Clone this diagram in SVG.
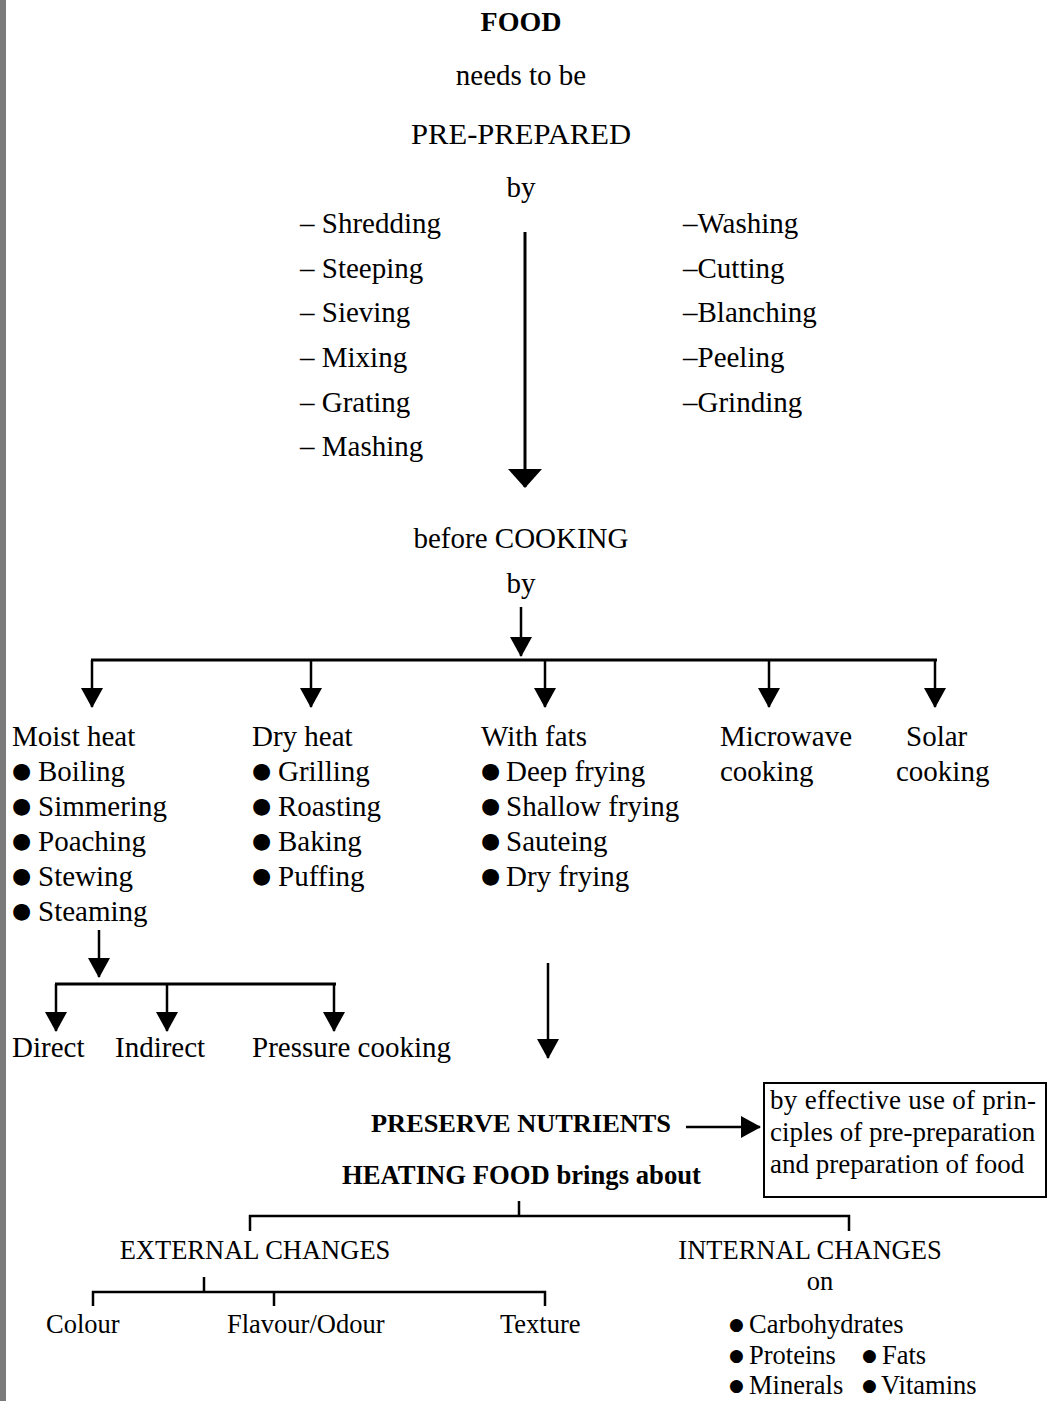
<svg xmlns="http://www.w3.org/2000/svg" width="1050" height="1401" viewBox="0 0 1050 1401">
<defs>
<style>
text{font-family:"Liberation Serif","Times New Roman",serif;fill:#000}
.t{font-size:29px}
.c{text-anchor:middle}
.bd{font-weight:bold}
.s{font-size:26.5px}
.bx{font-size:27px}
.bu{font-family:"DejaVu Sans",sans-serif;font-size:22px}
.bs{font-family:"DejaVu Sans",sans-serif;font-size:17px}
.ln{stroke:#000;stroke-width:2.5;fill:none}
.th{stroke:#000;stroke-width:3;fill:none}
</style>
<marker id="arr" viewBox="0 0 20 22" markerWidth="20" markerHeight="22" refX="19" refY="11" orient="auto" markerUnits="userSpaceOnUse"><path d="M0,0 L20,11 L0,22 z" fill="#000"/></marker>
<marker id="big" viewBox="0 0 19 34" markerWidth="19" markerHeight="34" refX="18" refY="17" orient="auto" markerUnits="userSpaceOnUse"><path d="M0,0 L19,17 L0,34 z" fill="#000"/></marker>
</defs>
<rect x="0" y="0" width="6" height="1401" fill="#7a7a7a"/>

<g id="food"><text class="t c bd" x="521" y="31" style="font-size:28px">FOOD</text></g>
<g id="needs"><text class="t c" x="521" y="85">needs to be</text></g>
<g id="preprepared"><text class="t c" x="521" y="144" textLength="220" lengthAdjust="spacingAndGlyphs">PRE-PREPARED</text></g>
<g id="by1"><text class="t c" x="521" y="197">by</text></g>
<g id="prep-left">
<text class="t" x="300" y="233">– Shredding</text>
<text class="t" x="300" y="278">– Steeping</text>
<text class="t" x="300" y="322">– Sieving</text>
<text class="t" x="300" y="367">– Mixing</text>
<text class="t" x="300" y="412">– Grating</text>
<text class="t" x="300" y="456">– Mashing</text>
</g>
<g id="prep-right">
<text class="t" x="683" y="233">–Washing</text>
<text class="t" x="683" y="278">–Cutting</text>
<text class="t" x="683" y="322">–Blanching</text>
<text class="t" x="683" y="367">–Peeling</text>
<text class="t" x="683" y="412">–Grinding</text>
</g>
<g id="cooking"><text class="t c" x="521" y="548">before COOKING</text></g>
<g id="by2"><text class="t c" x="521" y="593">by</text></g>

<g id="moist">
<text class="t" x="12" y="746">Moist heat</text>
<text class="t" x="12" y="781"><tspan class="bu" dy="-3">●</tspan><tspan x="38" dy="3">Boiling</tspan></text>
<text class="t" x="12" y="816"><tspan class="bu" dy="-3">●</tspan><tspan x="38" dy="3">Simmering</tspan></text>
<text class="t" x="12" y="851"><tspan class="bu" dy="-3">●</tspan><tspan x="38" dy="3">Poaching</tspan></text>
<text class="t" x="12" y="886"><tspan class="bu" dy="-3">●</tspan><tspan x="38" dy="3">Stewing</tspan></text>
<text class="t" x="12" y="921"><tspan class="bu" dy="-3">●</tspan><tspan x="38" dy="3">Steaming</tspan></text>
</g>
<g id="dry">
<text class="t" x="252" y="746">Dry heat</text>
<text class="t" x="252" y="781"><tspan class="bu" dy="-3">●</tspan><tspan x="278" dy="3">Grilling</tspan></text>
<text class="t" x="252" y="816"><tspan class="bu" dy="-3">●</tspan><tspan x="278" dy="3">Roasting</tspan></text>
<text class="t" x="252" y="851"><tspan class="bu" dy="-3">●</tspan><tspan x="278" dy="3">Baking</tspan></text>
<text class="t" x="252" y="886"><tspan class="bu" dy="-3">●</tspan><tspan x="278" dy="3">Puffing</tspan></text>
</g>
<g id="fats">
<text class="t" x="481" y="746">With fats</text>
<text class="t" x="481" y="781"><tspan class="bu" dy="-3">●</tspan><tspan x="506" dy="3">Deep frying</tspan></text>
<text class="t" x="481" y="816"><tspan class="bu" dy="-3">●</tspan><tspan x="506" dy="3">Shallow frying</tspan></text>
<text class="t" x="481" y="851"><tspan class="bu" dy="-3">●</tspan><tspan x="506" dy="3">Sauteing</tspan></text>
<text class="t" x="481" y="886"><tspan class="bu" dy="-3">●</tspan><tspan x="506" dy="3">Dry frying</tspan></text>
</g>
<g id="microwave">
<text class="t" x="720" y="746">Microwave</text>
<text class="t" x="720" y="781">cooking</text>
</g>
<g id="solar">
<text class="t" x="906" y="746">Solar</text>
<text class="t" x="896" y="781">cooking</text>
</g>
<g id="direct"><text class="t" x="12" y="1057">Direct</text></g>
<g id="indirect"><text class="t" x="115" y="1057">Indirect</text></g>
<g id="pressure"><text class="t" x="252" y="1057">Pressure cooking</text></g>

<g id="preserve"><text class="bd" x="371" y="1132" style="font-size:26px" textLength="300" lengthAdjust="spacingAndGlyphs">PRESERVE NUTRIENTS</text></g>
<g id="principles">
<rect x="764" y="1083" width="282" height="114" class="ln" style="stroke-width:2"/>
<text class="bx" x="770" y="1109" textLength="266" lengthAdjust="spacing">by effective use of prin-</text>
<text class="bx" x="770" y="1141">ciples of pre-preparation</text>
<text class="bx" x="770" y="1173">and preparation of food</text>
</g>
<g id="heating"><text class="bd" x="342" y="1184" style="font-size:26.5px" textLength="359" lengthAdjust="spacingAndGlyphs">HEATING FOOD brings about</text></g>
<g id="external"><text class="s c" x="255" y="1259">EXTERNAL CHANGES</text></g>
<g id="internal">
<text class="s c" x="810" y="1259">INTERNAL CHANGES</text>
<text class="s c" x="820" y="1290">on</text>
</g>
<g id="colour"><text class="s" x="46" y="1333">Colour</text></g>
<g id="flavour"><text class="s" x="227" y="1333">Flavour/Odour</text></g>
<g id="texture"><text class="s" x="500" y="1333">Texture</text></g>
<g id="nutrients">
<text class="s" x="729" y="1333"><tspan class="bs" dy="-3">●</tspan><tspan x="749" dy="3">Carbohydrates</tspan></text>
<text class="s" x="729" y="1364"><tspan class="bs" dy="-3">●</tspan><tspan x="749" dy="3">Proteins</tspan></text>
<text class="s" x="862" y="1364"><tspan class="bs" dy="-3">●</tspan><tspan x="882" dy="3">Fats</tspan></text>
<text class="s" x="729" y="1394"><tspan class="bs" dy="-3">●</tspan><tspan x="749" dy="3">Minerals</tspan></text>
<text class="s" x="862" y="1394"><tspan class="bs" dy="-3">●</tspan><tspan x="881" dy="3">Vitamins</tspan></text>
</g>

<g id="connectors">
<line class="th" x1="525" y1="232" x2="525" y2="487" marker-end="url(#big)"/>
<line class="ln" x1="521" y1="607" x2="521" y2="656" marker-end="url(#arr)"/>
<line class="th" x1="91" y1="660" x2="937" y2="660"/>
<line class="ln" x1="92" y1="660" x2="92" y2="707" marker-end="url(#arr)"/>
<line class="ln" x1="311" y1="660" x2="311" y2="707" marker-end="url(#arr)"/>
<line class="ln" x1="545" y1="660" x2="545" y2="707" marker-end="url(#arr)"/>
<line class="ln" x1="769" y1="660" x2="769" y2="707" marker-end="url(#arr)"/>
<line class="ln" x1="935" y1="660" x2="935" y2="707" marker-end="url(#arr)"/>
<line class="ln" x1="99" y1="930" x2="99" y2="977" marker-end="url(#arr)"/>
<line class="th" x1="55" y1="984" x2="336" y2="984"/>
<line class="ln" x1="56" y1="984" x2="56" y2="1031" marker-end="url(#arr)"/>
<line class="ln" x1="167" y1="984" x2="167" y2="1031" marker-end="url(#arr)"/>
<line class="ln" x1="334" y1="984" x2="334" y2="1031" marker-end="url(#arr)"/>
<line class="ln" x1="548" y1="963" x2="548" y2="1058" marker-end="url(#arr)"/>
<line class="ln" x1="686" y1="1127" x2="760" y2="1127" marker-end="url(#arr)"/>
<path class="ln" d="M519,1201 V1216 M250,1231 V1216 H849 V1231"/>
<path class="ln" d="M204,1277 V1292 M93,1306 V1292 H545 V1306 M274,1292 V1306"/>
</g>
</svg>
